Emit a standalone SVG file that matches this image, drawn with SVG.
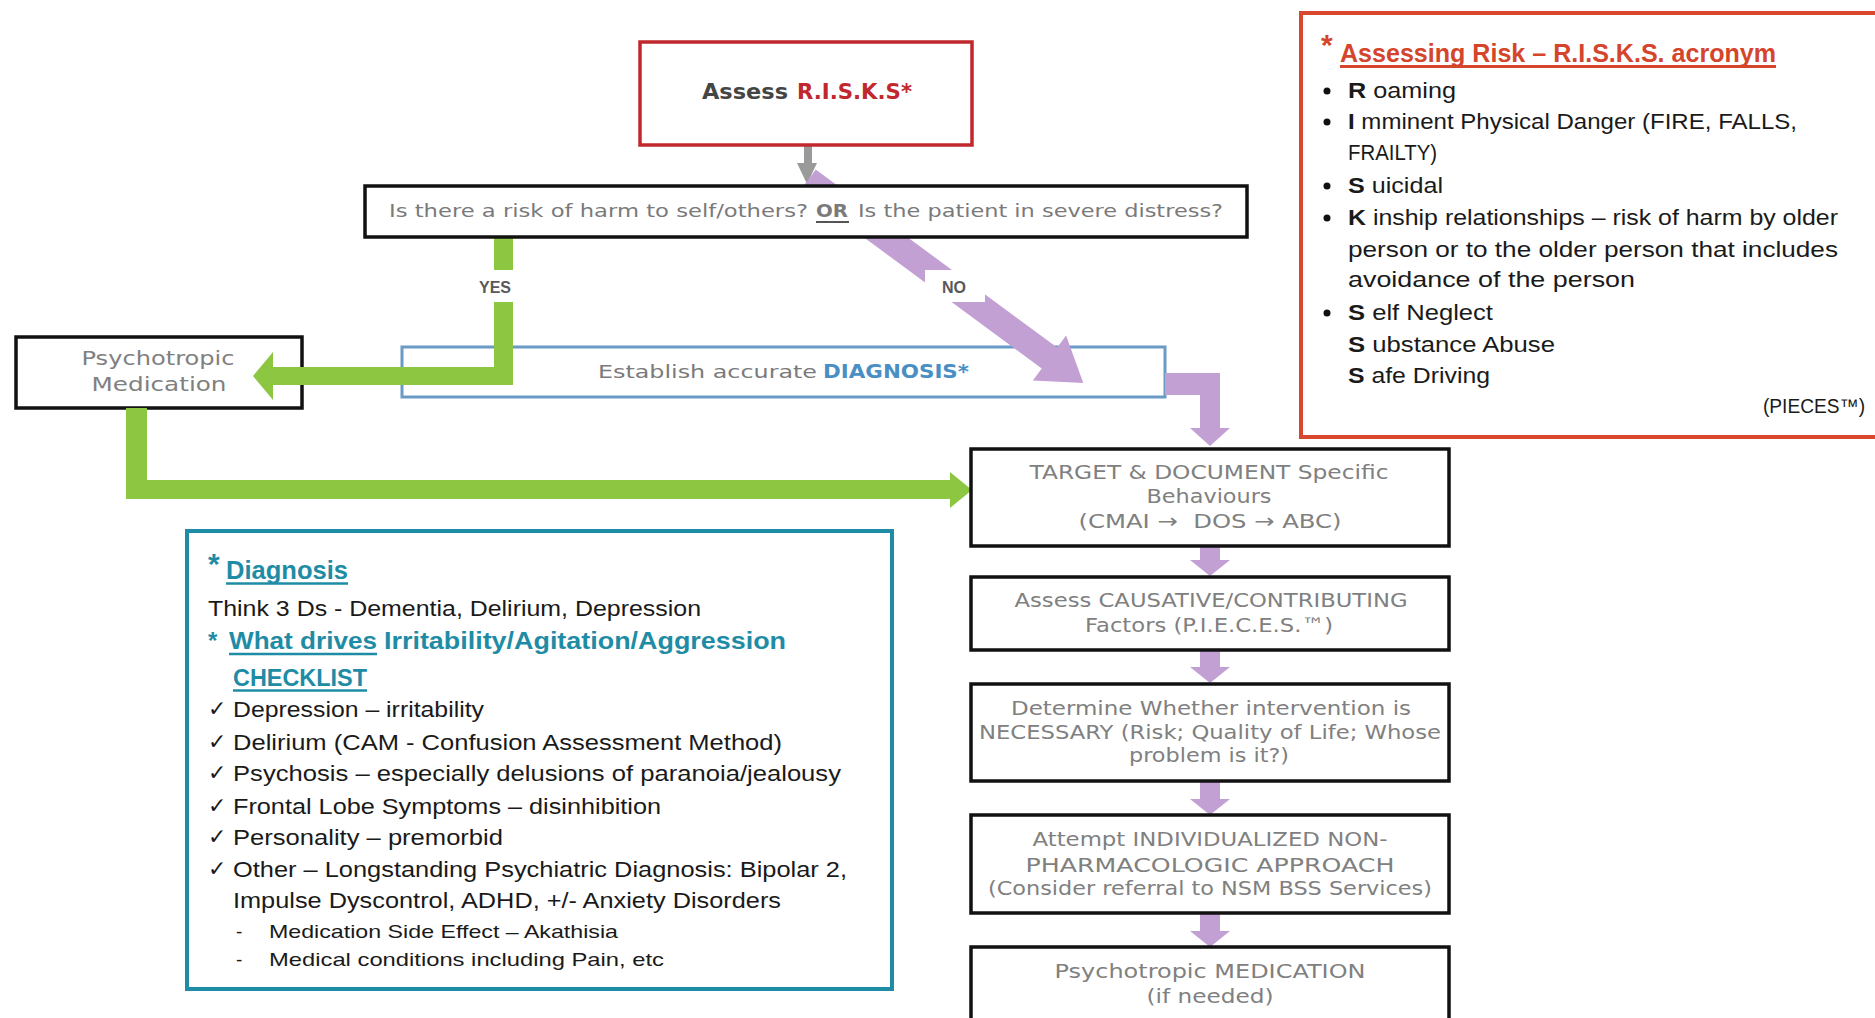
<svg xmlns="http://www.w3.org/2000/svg" width="1875" height="1018" viewBox="0 0 1875 1018">
<style>
.box{fill:#fff;stroke:#111;stroke-width:3.5}
.flow{font-family:'DejaVu Sans',sans-serif;font-size:20px;fill:#808080;text-anchor:middle}
.q{font-family:'DejaVu Sans',sans-serif;font-size:18px;fill:#7a7a7a}
.list{font-family:'Liberation Sans',Arial,sans-serif;font-size:22px;fill:#1a1a1a}
.teal{fill:#1f8ca6;font-weight:bold;font-family:'Liberation Sans',Arial,sans-serif}
.red{fill:#d4452c;font-weight:bold;font-family:'Liberation Sans',Arial,sans-serif}
.lbl{font-family:'Liberation Sans',Arial,sans-serif;font-weight:bold;font-size:16px;fill:#595959;text-anchor:middle}
.chk{font-family:'DejaVu Sans',sans-serif;font-size:22px;fill:#1a1a1a}
.green{fill:#8dc641}
.purple{fill:#c3a0d4}
</style>
<rect width="1875" height="1018" fill="#fff"/>

<g id="node-establish">
  <rect x="402" y="347" width="763" height="50" fill="#fff" stroke="#6a9ac6" stroke-width="3"/>
  <text class="q" x="598" y="378" font-size="19" textLength="219" lengthAdjust="spacingAndGlyphs">Establish accurate</text>
  <text x="823" y="378" font-family="'DejaVu Sans',sans-serif" font-size="19" font-weight="bold" fill="#4a8fc4" textLength="146" lengthAdjust="spacingAndGlyphs">DIAGNOSIS*</text>
</g>

<g id="node-psych-med">
  <rect class="box" x="16" y="337" width="286" height="71"/>
  <text class="flow" x="158" y="365" textLength="153" lengthAdjust="spacingAndGlyphs">Psychotropic</text>
  <text class="flow" x="159" y="391" textLength="135" lengthAdjust="spacingAndGlyphs">Medication</text>
</g>

<g id="connectors">
  <rect x="804" y="145" width="8" height="20" fill="#9a9a9a"/>
  <polygon points="797,163 817,163 807,184" fill="#9a9a9a"/>
  <g transform="translate(808,180) rotate(36.4)">
    <polygon class="purple" points="0,-13 300,-13 300,-28 342,0 300,28 300,13 0,13"/>
  </g>
  <rect x="925" y="270" width="60" height="32" fill="#fff"/>
  <text class="lbl" x="954" y="293" font-size="17">NO</text>
  <polygon class="green" points="494,236 513,236 513,385 273,385 273,400 253,376 273,352 273,367 494,367"/>
  <rect x="470" y="270" width="60" height="32" fill="#fff"/>
  <text class="lbl" x="495" y="293" font-size="17">YES</text>
  <polygon class="green" points="126,408 147,408 147,480 950,480 950,472 972,490 950,508 950,499 126,499"/>
  <polygon class="purple" points="1165,373 1220,373 1220,428 1230,428 1210,446 1190,428 1200,428 1200,395 1165,395"/>
  <polygon class="purple" points="1200,546 1220,546 1220,560 1230,560 1210,576 1190,560 1200,560"/>
  <polygon class="purple" points="1200,650 1220,650 1220,667 1230,667 1210,683 1190,667 1200,667"/>
  <polygon class="purple" points="1200,781 1220,781 1220,799 1230,799 1210,815 1190,799 1200,799"/>
  <polygon class="purple" points="1200,913 1220,913 1220,931 1230,931 1210,947 1190,931 1200,931"/>
</g>

<g id="node-assess">
  <rect x="640" y="42" width="332" height="103" fill="#fff" stroke="#c0282d" stroke-width="3.5"/>
  <text x="702" y="99" font-family="'DejaVu Sans',sans-serif" font-weight="bold" font-size="22" fill="#454545" textLength="86" lengthAdjust="spacingAndGlyphs">Assess</text>
  <text x="797" y="99" font-family="'DejaVu Sans',sans-serif" font-weight="bold" font-size="22" fill="#c0282d" textLength="115" lengthAdjust="spacingAndGlyphs">R.I.S.K.S*</text>
</g>

<g id="node-question">
  <rect class="box" x="365" y="186" width="882" height="51"/>
  <text class="q" x="389" y="217" textLength="419" lengthAdjust="spacingAndGlyphs">Is there a risk of harm to self/others?</text>
  <text class="q" x="816" y="217" font-weight="bold" fill="#555" textLength="32" lengthAdjust="spacingAndGlyphs">OR</text>
  <line x1="816" y1="222" x2="849" y2="222" stroke="#555" stroke-width="2"/>
  <text class="q" x="858" y="217" textLength="365" lengthAdjust="spacingAndGlyphs">Is the patient in severe distress?</text>
</g>

<g id="node-target">
  <rect class="box" x="971" y="449" width="478" height="97"/>
  <text class="flow" x="1209" y="479" textLength="359" lengthAdjust="spacingAndGlyphs">TARGET &amp; DOCUMENT Specific</text>
  <text class="flow" x="1209" y="503" textLength="125" lengthAdjust="spacingAndGlyphs">Behaviours</text>
  <text class="flow" x="1210" y="528" textLength="263" lengthAdjust="spacingAndGlyphs">(CMAI →&#160; DOS → ABC)</text>
</g>

<g id="node-causative">
  <rect class="box" x="971" y="577" width="478" height="73"/>
  <text class="flow" x="1211" y="607" textLength="393" lengthAdjust="spacingAndGlyphs">Assess CAUSATIVE/CONTRIBUTING</text>
  <text class="flow" x="1209" y="632" textLength="248" lengthAdjust="spacingAndGlyphs">Factors (P.I.E.C.E.S.™)</text>
</g>

<g id="node-determine">
  <rect class="box" x="971" y="684" width="478" height="97"/>
  <text class="flow" x="1211" y="715" textLength="400" lengthAdjust="spacingAndGlyphs">Determine Whether intervention is</text>
  <text class="flow" x="1210" y="739" textLength="462" lengthAdjust="spacingAndGlyphs">NECESSARY (Risk; Quality of Life; Whose</text>
  <text class="flow" x="1209" y="762" textLength="160" lengthAdjust="spacingAndGlyphs">problem is it?)</text>
</g>

<g id="node-attempt">
  <rect class="box" x="971" y="815" width="478" height="98"/>
  <text class="flow" x="1210" y="846" textLength="355" lengthAdjust="spacingAndGlyphs">Attempt INDIVIDUALIZED NON-</text>
  <text class="flow" x="1210" y="872" textLength="369" lengthAdjust="spacingAndGlyphs">PHARMACOLOGIC APPROACH</text>
  <text class="flow" x="1210" y="895" textLength="444" lengthAdjust="spacingAndGlyphs">(Consider referral to NSM BSS Services)</text>
</g>

<g id="node-medication">
  <rect class="box" x="971" y="947" width="478" height="90"/>
  <text class="flow" x="1210" y="978" textLength="311" lengthAdjust="spacingAndGlyphs">Psychotropic MEDICATION</text>
  <text class="flow" x="1210" y="1003" textLength="127" lengthAdjust="spacingAndGlyphs">(if needed)</text>
</g>

<g id="node-risks-legend">
  <rect x="1301" y="13" width="590" height="424" fill="#fff" stroke="#d9482e" stroke-width="4"/>
  <text class="red" x="1321" y="55" font-size="30">*</text>
  <text class="red" x="1340" y="62" font-size="25" textLength="436" lengthAdjust="spacingAndGlyphs">Assessing Risk – R.I.S.K.S. acronym</text>
  <line x1="1340" y1="66.5" x2="1776" y2="66.5" stroke="#d4452c" stroke-width="3"/>
  <g class="list">
    <circle cx="1327" cy="91" r="3.5" fill="#111"/>
    <circle cx="1327" cy="122" r="3.5" fill="#111"/>
    <circle cx="1327" cy="186" r="3.5" fill="#111"/>
    <circle cx="1327" cy="218" r="3.5" fill="#111"/>
    <circle cx="1327" cy="313" r="3.5" fill="#111"/>
    <text x="1348" y="98" textLength="108" lengthAdjust="spacingAndGlyphs"><tspan font-weight="bold">R</tspan> oaming</text>
    <text x="1348" y="129" textLength="449" lengthAdjust="spacingAndGlyphs"><tspan font-weight="bold">I</tspan> mminent Physical Danger (FIRE, FALLS,</text>
    <text x="1348" y="160" textLength="89" lengthAdjust="spacingAndGlyphs">FRAILTY)</text>
    <text x="1348" y="193" textLength="95" lengthAdjust="spacingAndGlyphs"><tspan font-weight="bold">S</tspan> uicidal</text>
    <text x="1348" y="225" textLength="490" lengthAdjust="spacingAndGlyphs"><tspan font-weight="bold">K</tspan> inship relationships – risk of harm by older</text>
    <text x="1348" y="257" textLength="490" lengthAdjust="spacingAndGlyphs">person or to the older person that includes</text>
    <text x="1348" y="287" textLength="287" lengthAdjust="spacingAndGlyphs">avoidance of the person</text>
    <text x="1348" y="320" textLength="145" lengthAdjust="spacingAndGlyphs"><tspan font-weight="bold">S</tspan> elf Neglect</text>
    <text x="1348" y="352" textLength="207" lengthAdjust="spacingAndGlyphs"><tspan font-weight="bold">S</tspan> ubstance Abuse</text>
    <text x="1348" y="383" textLength="142" lengthAdjust="spacingAndGlyphs"><tspan font-weight="bold">S</tspan> afe Driving</text>
    <text x="1865" y="413" font-size="20" text-anchor="end" textLength="102" lengthAdjust="spacingAndGlyphs">(PIECES™)</text>
  </g>
</g>

<g id="node-diagnosis-legend">
  <rect x="187" y="531" width="705" height="458" fill="#fff" stroke="#1f8ca6" stroke-width="4"/>
  <text class="teal" x="208" y="574" font-size="30">*</text>
  <text class="teal" x="226" y="579" font-size="25" textLength="122" lengthAdjust="spacingAndGlyphs">Diagnosis</text>
  <line x1="226" y1="583.5" x2="348" y2="583.5" stroke="#1f8ca6" stroke-width="2.5"/>
  <g class="list">
    <text x="208" y="616" textLength="493" lengthAdjust="spacingAndGlyphs">Think 3 Ds - Dementia, Delirium, Depression</text>
  </g>
  <text class="teal" x="208" y="649" font-size="24">*</text>
  <text class="teal" x="229" y="649" font-size="24" textLength="148" lengthAdjust="spacingAndGlyphs">What drives</text>
  <line x1="229" y1="654" x2="377" y2="654" stroke="#1f8ca6" stroke-width="2.5"/>
  <text class="teal" x="384" y="649" font-size="24" textLength="402" lengthAdjust="spacingAndGlyphs">Irritability/Agitation/Aggression</text>
  <text class="teal" x="233" y="686" font-size="24" textLength="134" lengthAdjust="spacingAndGlyphs">CHECKLIST</text>
  <line x1="233" y1="690.5" x2="367" y2="690.5" stroke="#1f8ca6" stroke-width="2.5"/>
  <g class="list">
    <text class="chk" x="208" y="716">✓</text>
    <text x="233" y="717" textLength="251" lengthAdjust="spacingAndGlyphs">Depression – irritability</text>
    <text class="chk" x="208" y="749">✓</text>
    <text x="233" y="750" textLength="549" lengthAdjust="spacingAndGlyphs">Delirium (CAM - Confusion Assessment Method)</text>
    <text class="chk" x="208" y="780">✓</text>
    <text x="233" y="781" textLength="608" lengthAdjust="spacingAndGlyphs">Psychosis – especially delusions of paranoia/jealousy</text>
    <text class="chk" x="208" y="813">✓</text>
    <text x="233" y="814" textLength="428" lengthAdjust="spacingAndGlyphs">Frontal Lobe Symptoms – disinhibition</text>
    <text class="chk" x="208" y="844">✓</text>
    <text x="233" y="845" textLength="270" lengthAdjust="spacingAndGlyphs">Personality – premorbid</text>
    <text class="chk" x="208" y="876">✓</text>
    <text x="233" y="877" textLength="614" lengthAdjust="spacingAndGlyphs">Other – Longstanding Psychiatric Diagnosis: Bipolar 2,</text>
    <text x="233" y="908" textLength="548" lengthAdjust="spacingAndGlyphs">Impulse Dyscontrol, ADHD, +/- Anxiety Disorders</text>
    <text x="236" y="938" font-size="19">-</text>
    <text x="269" y="938" font-size="19" textLength="349" lengthAdjust="spacingAndGlyphs">Medication Side Effect – Akathisia</text>
    <text x="236" y="966" font-size="19">-</text>
    <text x="269" y="966" font-size="19" textLength="395" lengthAdjust="spacingAndGlyphs">Medical conditions including Pain, etc</text>
  </g>
</g>
</svg>
